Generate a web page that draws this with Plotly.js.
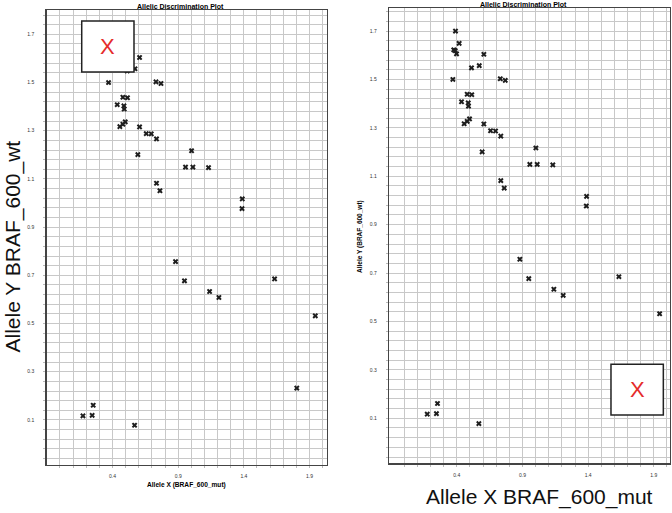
<!DOCTYPE html>
<html>
<head>
<meta charset="utf-8">
<script src="https://cdn.plot.ly/plotly-3.0.1.min.js"></script>
<style>html,body{margin:0;padding:0;background:#fff;}#chart{width:672px;height:513px;}</style>
</head>
<body>
<div id="chart"></div>
<script>
// Allele X (BRAF_600_mut) and Allele Y (BRAF_600_wt) signal per well
const alleleX = [0.390,0.418,0.377,0.388,0.398,0.606,0.571,0.512,0.370,0.731,0.769,0.479,0.514,0.436,0.487,0.489,
                 0.456,0.479,0.497,0.606,0.657,0.695,0.735,0.593,1.002,0.956,1.012,1.131,0.735,0.761,1.388,1.386,
                 0.880,0.948,1.139,1.210,1.634,1.944,0.253,0.175,0.245,0.568,1.803];
const alleleY = [1.700,1.649,1.622,1.619,1.606,1.604,1.557,1.548,1.500,1.503,1.496,1.439,1.437,1.408,1.403,1.390,
                 1.317,1.327,1.337,1.316,1.288,1.287,1.266,1.201,1.217,1.149,1.149,1.147,1.082,1.051,1.017,0.977,
                 0.757,0.677,0.633,0.608,0.685,0.532,0.161,0.117,0.119,0.078,0.232];

const xTickVals = [0.4, 0.9, 1.4, 1.9];
const xTickLabels = ['0.4', '0.9', '1.4', '1.9'];
const yTickVals = [0.1, 0.3, 0.5, 0.7, 0.9, 1.1, 1.3, 1.5, 1.7];
const yTickLabels = ['0.1', '0.3', '0.5', '0.7', '0.9', '1.1', '1.3', '1.5', '1.7'];

const plotTitle = 'Allelic Discrimination Plot';
const xTitleSmall = 'Allele X (BRAF_600_mut)';
const yTitleSmall = 'Allele Y (BRAF_600_wt)';
const xTitleBig = 'Allele X BRAF_600_mut';
const yTitleBig = 'Allele Y BRAF_600_wt';

// grid ticks: x every 0.1, y every 0.04 (labels only on the listed values)
function gridTicks(start, step, count, vals, labels) {
  const tv = [], tt = [];
  for (let i = 0; i < count; i++) {
    const v = Math.round((start + i * step) * 1000) / 1000;
    tv.push(v);
    const k = vals.findIndex(u => Math.abs(u - v) < 1e-6);
    tt.push(k >= 0 ? labels[k] : '');
  }
  return {tv, tt};
}
const gx = gridTicks(0, 0.1, 21, xTickVals, xTickLabels);
const gy = gridTicks(-0.06, 0.04, 47, yTickVals, yTickLabels);

const tickFont = {family: 'Arial, Liberation Sans, sans-serif', size: 5, color: '#333'};
function xAxis(domain, range) {
  return {domain, range, tickmode: 'array', tickvals: gx.tv, ticktext: gx.tt,
    showgrid: true, gridcolor: '#c8c8c8', gridwidth: 1, zeroline: false,
    showline: true, mirror: true, linecolor: '#444', linewidth: 1.5,
    ticks: 'outside', ticklen: 2, tickcolor: '#bbb', ticklabelstandoff: 4,
    tickfont: tickFont, fixedrange: true};
}
function yAxis(domain, range, anchor) {
  return {domain, range, anchor, tickmode: 'array', tickvals: gy.tv, ticktext: gy.tt,
    showgrid: true, gridcolor: '#c8c8c8', gridwidth: 1, zeroline: false,
    showline: true, mirror: true, linecolor: '#444', linewidth: 1.5,
    ticks: 'outside', ticklen: 2, tickcolor: '#bbb', ticklabelstandoff: 8,
    tickfont: tickFont, fixedrange: true};
}

const marker = {symbol: 'x', size: 5, color: '#1e1e1e', line: {width: 0}};
const traces = [
  {x: alleleX, y: alleleY, type: 'scatter', mode: 'markers', marker, xaxis: 'x', yaxis: 'y', hoverinfo: 'x+y'},
  {x: alleleX, y: alleleY, type: 'scatter', mode: 'markers', marker, xaxis: 'x2', yaxis: 'y2', hoverinfo: 'x+y'}
];

const boldSmall = {family: 'Arial, Liberation Sans, sans-serif', size: 7, color: '#000', weight: 'bold'};
const bigFont = {family: 'Arial, Liberation Sans, sans-serif', size: 21, color: '#111'};
const redX = {family: 'Arial, Liberation Sans, sans-serif', size: 22, color: '#e52b2b'};

const layout = {
  width: 672, height: 513,
  margin: {l: 0, r: 0, t: 0, b: 0},
  paper_bgcolor: '#fff', plot_bgcolor: '#fff',
  showlegend: false,
  xaxis: xAxis([0.0695, 0.4866], [-0.101, 2.033]),
  yaxis: yAxis([0.0936, 0.9805], [-0.087, 1.801], 'x'),
  xaxis2: Object.assign(xAxis([0.5793, 0.997], [-0.114, 2.023]), {anchor: 'y2'}),
  yaxis2: yAxis([0.0969, 0.9838], [-0.086, 1.794], 'x2'),
  shapes: [
    {type: 'rect', xref: 'paper', yref: 'paper', x0: 0.1216, x1: 0.1994, y0: 0.8596, y1: 0.9591,
     fillcolor: '#fff', line: {color: '#222', width: 1.5}, layer: 'above'},
    {type: 'rect', xref: 'paper', yref: 'paper', x0: 0.9092, x1: 0.9871, y0: 0.191, y1: 0.2899,
     fillcolor: '#fff', line: {color: '#222', width: 1.5}, layer: 'above'}
  ],
  annotations: [
    {text: plotTitle, xref: 'paper', yref: 'paper', x: 180/672, y: 1 - 6.5/513, showarrow: false,
     xanchor: 'center', yanchor: 'middle', font: boldSmall},
    {text: plotTitle, xref: 'paper', yref: 'paper', x: 523.5/672, y: 1 - 4.5/513, showarrow: false,
     xanchor: 'center', yanchor: 'middle', font: boldSmall},
    {text: xTitleSmall, xref: 'paper', yref: 'paper', x: 186.5/672, y: 1 - 485/513, showarrow: false,
     xanchor: 'center', yanchor: 'middle', font: Object.assign({}, boldSmall, {size: 6.6})},
    {text: yTitleSmall, xref: 'paper', yref: 'paper', x: 360/672, y: 1 - 237/513, showarrow: false,
     textangle: -90, xanchor: 'center', yanchor: 'middle', font: Object.assign({}, boldSmall, {size: 6.5})},
    {text: yTitleBig, xref: 'paper', yref: 'paper', x: 12/672, y: 1 - 246.5/513, showarrow: false,
     textangle: -90, xanchor: 'center', yanchor: 'middle', font: bigFont},
    {text: xTitleBig, xref: 'paper', yref: 'paper', x: 539/672, y: 1 - 497/513, showarrow: false,
     xanchor: 'center', yanchor: 'middle', font: bigFont},
    {text: 'X', xref: 'paper', yref: 'paper', x: 107.8/672, y: 1 - 46.5/513, showarrow: false,
     xanchor: 'center', yanchor: 'middle', font: redX},
    {text: 'X', xref: 'paper', yref: 'paper', x: 637.2/672, y: 1 - 389.7/513, showarrow: false,
     xanchor: 'center', yanchor: 'middle', font: redX}
  ]
};

Plotly.newPlot('chart', traces, layout, {displayModeBar: false, staticPlot: true});
</script>
</body>
</html>
